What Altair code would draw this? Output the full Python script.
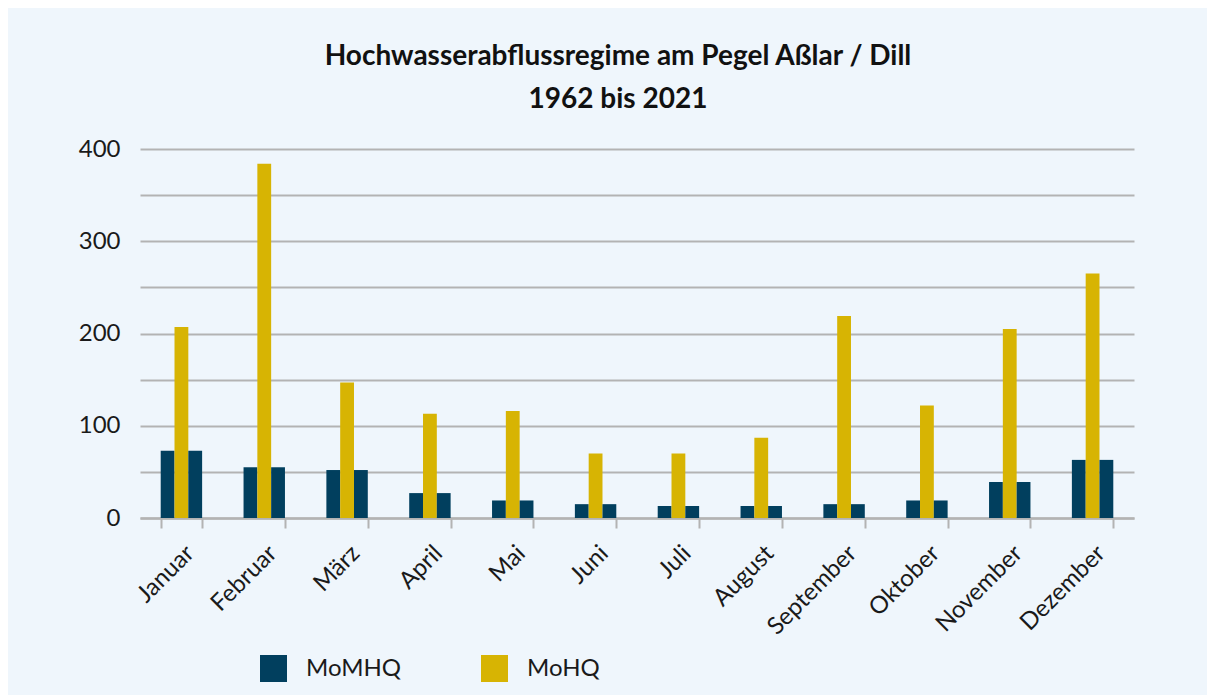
import altair as alt
import pandas as pd

months = ["Januar", "Februar", "März", "April", "Mai", "Juni", "Juli",
          "August", "September", "Oktober", "November", "Dezember"]
momhq = [73, 55, 52, 27, 19, 15, 13, 13, 15, 19, 39, 63]
mohq = [207, 384, 147, 113, 116, 70, 70, 87, 219, 122, 205, 265]

rows = []
for m, a, b in zip(months, momhq, mohq):
    rows.append({"Monat": m, "slot": "a", "Reihe": "MoMHQ", "Wert": a})
    rows.append({"Monat": m, "slot": "b", "Reihe": "MoHQ", "Wert": b})
    rows.append({"Monat": m, "slot": "c", "Reihe": "MoMHQ", "Wert": a})
df = pd.DataFrame(rows)

FONT = "Lato"
GRID = "#B3B3B3"

chart = alt.Chart(df).mark_bar().encode(
    x=alt.X("Monat:N", sort=months, title=None,
            scale=alt.Scale(paddingInner=0.5, paddingOuter=0.25),
            axis=alt.Axis(labelAngle=-45, labelAlign="right", labelBaseline="top",
                          labelFontSize=24, labelColor="#1a1a1a", labelFont=FONT,
                          labelPadding=13,
                          domainColor=GRID, domainWidth=2.5,
                          tickColor=GRID, tickWidth=2, tickSize=10, tickBand="extent",
                          grid=False)),
    xOffset=alt.XOffset("slot:N", scale=alt.Scale(paddingInner=0, paddingOuter=0)),
    y=alt.Y("Wert:Q", title=None,
            scale=alt.Scale(domain=[0, 400], nice=False),
            axis=alt.Axis(values=list(range(0, 401, 50)),
                          labelExpr="datum.value % 100 == 0 ? datum.label : ''",
                          labelFontSize=24, labelColor="#1a1a1a", labelFont=FONT,
                          labelPadding=20, domain=False, ticks=False,
                          gridColor=GRID, gridWidth=2)),
    color=alt.Color("Reihe:N",
                    scale=alt.Scale(domain=["MoMHQ", "MoHQ"], range=["#013F5E", "#D7B403"]),
                    legend=alt.Legend(title=None, orient="none", direction="horizontal",
                                      legendX=120, legendY=506, padding=0,
                                      symbolType="square", symbolSize=729,
                                      symbolStrokeWidth=0, symbolOpacity=1,
                                      labelFontSize=24, labelFont=FONT, labelColor="#1a1a1a",
                                      labelOffset=19, columnPadding=80)),
).properties(
    width=994, height=369,
    background="#EFF6FC",
    padding={"left": 132, "top": 141, "right": 73, "bottom": 177},
    autosize=alt.AutoSizeParams(type="none"),
    title=alt.TitleParams(["Hochwasserabflussregime am Pegel Aßlar / Dill", "1962 bis 2021"],
                          font=FONT, fontSize=28, fontWeight="bold", color="#111111",
                          lineHeight=43, anchor="middle", dx=-19, offset=23),
).configure_view(stroke=None)

chart.save("out.html", embed_options={"renderer": "svg", "actions": False})
